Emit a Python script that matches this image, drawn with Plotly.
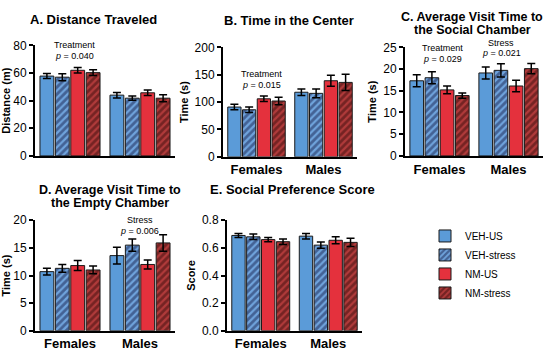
import plotly.graph_objects as go

groups = ["Females", "Males"]
series = ["VEH-US", "VEH-stress", "NM-US", "NM-stress"]

# Panel values [Females, Males] per series, and SEM
dist_mean = {"VEH-US": [57.8, 44.0], "VEH-stress": [57.0, 41.8], "NM-US": [62.0, 45.7], "NM-stress": [60.3, 41.8]}
dist_err = {"VEH-US": [1.8, 2.0], "VEH-stress": [2.5, 1.5], "NM-US": [2.0, 2.0], "NM-stress": [2.0, 2.5]}

center_mean = {"VEH-US": [91, 118], "VEH-stress": [86, 116], "NM-US": [106, 139], "NM-stress": [102, 136]}
center_err = {"VEH-US": [5, 6], "VEH-stress": [5, 8], "NM-US": [5, 10], "NM-stress": [7, 15]}

social_mean = {"VEH-US": [17.3, 19.1], "VEH-stress": [18.0, 19.7], "NM-US": [15.2, 16.1], "NM-stress": [13.9, 20.1]}
social_err = {"VEH-US": [1.4, 1.4], "VEH-stress": [1.4, 1.5], "NM-US": [0.9, 1.3], "NM-stress": [0.6, 1.2]}

empty_mean = {"VEH-US": [10.7, 13.6], "VEH-stress": [11.3, 15.5], "NM-US": [11.8, 12.0], "NM-stress": [11.0, 15.9]}
empty_err = {"VEH-US": [0.6, 1.5], "VEH-stress": [0.7, 1.1], "NM-US": [0.9, 0.8], "NM-stress": [0.7, 1.5]}

pref_mean = {"VEH-US": [0.69, 0.685], "VEH-stress": [0.68, 0.62], "NM-US": [0.66, 0.655], "NM-stress": [0.645, 0.64]}
pref_err = {"VEH-US": [0.015, 0.02], "VEH-stress": [0.02, 0.022], "NM-US": [0.015, 0.025], "NM-stress": [0.02, 0.03]}

base_col = {"VEH-US": "#5B9BD8", "VEH-stress": "#6FA3DC", "NM-US": "#E4313D", "NM-stress": "#B03A3A"}
stripe_col = {"VEH-stress": "#18224D", "NM-stress": "#3A0C0C"}

W, H = 550, 356
def px(x): return x / W
def py(y): return 1 - y / H

panels = [
    # (means, errs, x-domain px, y top px, y bottom px, range, dtick, ytitle, show x labels)
    (dist_mean, dist_err, (35, 175), 40, 155, [0, 80], 20, "Distance (m)", False),
    (center_mean, center_err, (223, 357), 42, 156, [0, 200], 50, "Time (s)", True),
    (social_mean, social_err, (405, 543), 42, 155, [0, 25], 5, "Time (s)", True),
    (empty_mean, empty_err, (35, 175), 222, 337, [0, 20], 5, "Time (s)", True),
    (pref_mean, pref_err, (227, 362), 222, 337, [0, 0.8], 0.2, "Score", True),
]

FONT = "Liberation Sans, Arial, sans-serif"
fig = go.Figure()
layout = {}
for i, (means, errs, xd, yt, yb, rng, dt, ytitle, showx) in enumerate(panels):
    n = "" if i == 0 else str(i + 1)
    for s in series:
        pat = None
        if s in stripe_col:
            pat = dict(shape="/", fgcolor=stripe_col[s], bgcolor=base_col[s], size=5, solidity=0.55, fillmode="overlay")
        fig.add_trace(go.Bar(
            x=groups, y=means[s], name=s, legendgroup=s, showlegend=(i == 0),
            xaxis="x" + n, yaxis="y" + n, offsetgroup=s,
            marker=dict(color=base_col[s], line=dict(color="#1a1a1a", width=1), pattern=pat),
            error_y=dict(type="data", array=errs[s], color="black", thickness=1.5, width=4),
        ))
    layout["xaxis" + n] = dict(domain=[px(xd[0]), px(xd[1])], anchor="y" + n, range=[-0.5, 1.5],
                              showline=True, linecolor="black", linewidth=2, ticks="", ticklen=0,
                              showticklabels=showx, tickfont=dict(size=13, family=FONT, color="black", weight="bold"),
                              showgrid=False, zeroline=False, fixedrange=True)
    layout["yaxis" + n] = dict(domain=[py(yb), py(yt)], anchor="x" + n, range=rng, dtick=dt,
                              showline=True, linecolor="black", linewidth=2, ticks="outside", ticklen=4,
                              tickwidth=1.5, tickcolor="black",
                              tickformat=".1f" if i == 4 else "d",
                              tickfont=dict(size=12, family=FONT, color="black"),
                              title=dict(text=ytitle, font=dict(size=11, family=FONT, color="black", weight="bold"), standoff=4),
                              showgrid=False, zeroline=False)

def ann(text, x, y, size=10, bold=False):
    return dict(text=text, x=px(x), y=py(y), xref="paper", yref="paper", showarrow=False,
                font=dict(size=size, family=FONT, color="black", weight="bold" if bold else "normal"),
                xanchor="center", yanchor="middle")

annotations = [
    ann("A. Distance Traveled", 93, 13, 13, True),
    ann("B. Time in the Center", 289, 14, 13, True),
    ann("C. Average Visit Time to", 472, 10, 12.5, True),
    ann("the Social Chamber", 472, 24, 12.5, True),
    ann("D. Average Visit Time to", 110, 190, 12.5, True),
    ann("the Empty Chamber", 110, 204, 12.5, True),
    ann("E. Social Preference Score", 292, 190, 13, True),
    ann("Treatment", 74, 40, 9), ann("<i>p</i> = 0.040", 74, 51, 9),
    ann("Treatment", 261, 70, 9), ann("<i>p</i> = 0.015", 261, 81, 9),
    ann("Treatment", 442, 43, 9), ann("<i>p</i> = 0.029", 442, 54, 9),
    ann("Stress", 501, 37, 9), ann("<i>p</i> = 0.021", 501, 48, 9),
    ann("Stress", 140, 222, 9), ann("<i>p</i> = 0.006", 140, 233, 9),
]

fig.update_layout(
    width=W, height=H, margin=dict(l=0, r=0, t=0, b=0),
    paper_bgcolor="white", plot_bgcolor="white",
    barmode="group", bargap=0.12, bargroupgap=0.1,
    annotations=annotations,
    legend=dict(x=px(425), y=py(268), xanchor="left", yanchor="middle",
                font=dict(size=10, family=FONT, color="black"), itemwidth=30,
                tracegroupgap=0, bgcolor="rgba(0,0,0,0)"),
    font=dict(family=FONT, color="black"),
    **layout,
)
fig.write_html("out.html", config={"displayModeBar": False},
               post_script="document.body.style.margin='0';document.body.style.overflow='hidden';")
